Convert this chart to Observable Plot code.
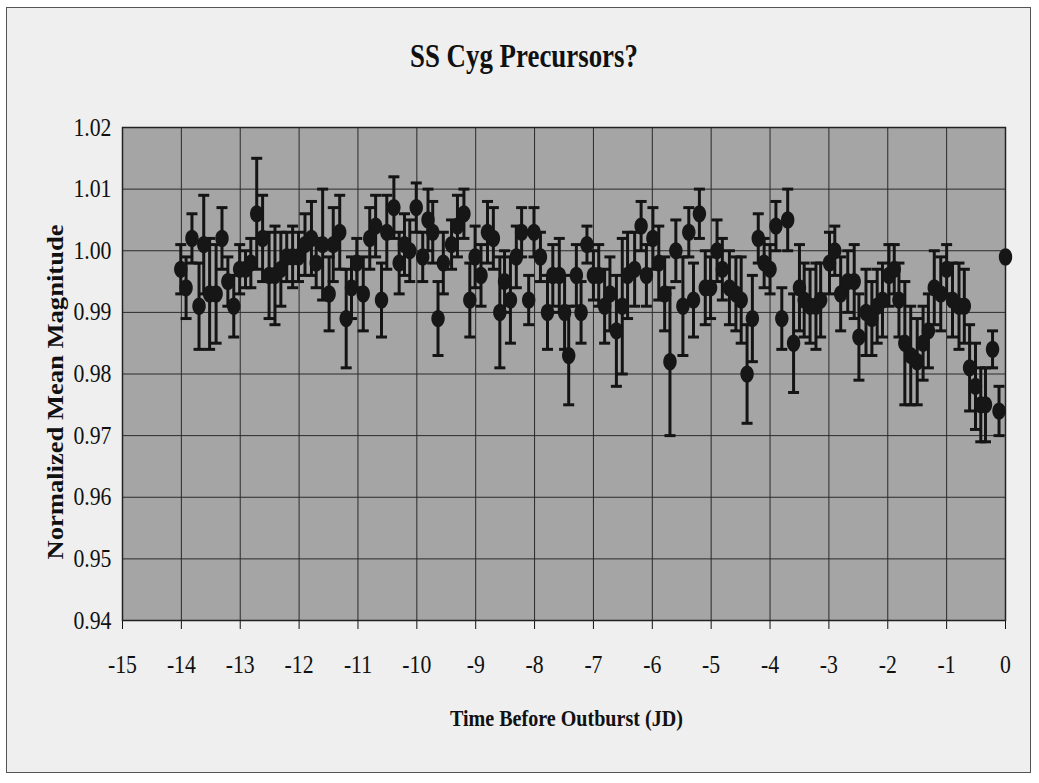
<!DOCTYPE html>
<html>
<head>
<meta charset="utf-8">
<script src="https://cdn.jsdelivr.net/npm/d3@7"></script>
<script src="https://cdn.jsdelivr.net/npm/@observablehq/plot@0.6"></script>
<style>
  html, body { margin: 0; padding: 0; background: #ffffff; }
  #page { position: relative; width: 1039px; height: 783px; overflow: hidden; background: #ffffff; }
  #frame { position: absolute; left: 6px; top: 7px; width: 1025px; height: 766px; border: 1px solid #555; background: #efefef; box-sizing: border-box; }
  #title { position: absolute; left: 0; top: 38px; width: 1047px; text-align: center; }
  #title span { display: inline-block; font-family: "Liberation Serif", serif; font-weight: bold; font-size: 33px; color: #111; transform-origin: center; white-space: nowrap; }
  .axtitle { position: absolute; left: 0; top: 0; font-family: "Liberation Serif", serif; font-weight: bold; color: #111; white-space: nowrap; line-height: 1; }
  #chart { position: absolute; left: 0; top: 100px; }
</style>
</head>
<body>
<div id="page">
  <div id="frame"></div>
  <div id="title"><span>SS Cyg Precursors?</span></div>
  <div id="chart"></div>
  <div id="xtitle" class="axtitle" style="font-size:23px"></div>
  <div id="ytitle" class="axtitle" style="font-size:24px"></div>
</div>
<script>
const titleText = "SS Cyg Precursors?";
const xTitle = "Time Before Outburst (JD)";
const yTitle = "Normalized Mean Magnitude";
const xTicks = [-15,-14,-13,-12,-11,-10,-9,-8,-7,-6,-5,-4,-3,-2,-1,0];
const yTicks = [0.94,0.95,0.96,0.97,0.98,0.99,1.00,1.01,1.02];

const times = [-14.01,-13.92,-13.82,-13.70,-13.62,-13.52,-13.41,-13.31,-13.21,-13.11,
-13.01,-12.91,-12.82,-12.72,-12.62,-12.51,-12.41,-12.31,-12.21,-12.11,
-12.01,-11.90,-11.79,-11.71,-11.60,-11.49,-11.42,-11.31,-11.20,-11.11,
-11.02,-10.91,-10.80,-10.70,-10.60,-10.51,-10.39,-10.30,-10.21,-10.12,
-10.01,-9.90,-9.81,-9.73,-9.64,-9.55,-9.41,-9.31,-9.20,-9.10,
-9.01,-8.91,-8.80,-8.70,-8.59,-8.51,-8.41,-8.31,-8.22,-8.10,
-8.01,-7.90,-7.78,-7.69,-7.58,-7.49,-7.42,-7.29,-7.21,-7.11,
-7.00,-6.91,-6.81,-6.72,-6.61,-6.51,-6.42,-6.30,-6.19,-6.10,
-5.99,-5.89,-5.79,-5.70,-5.60,-5.48,-5.38,-5.30,-5.20,-5.10,
-5.01,-4.90,-4.81,-4.69,-4.58,-4.49,-4.39,-4.30,-4.20,-4.10,
-4.00,-3.90,-3.80,-3.70,-3.60,-3.50,-3.42,-3.32,-3.22,-3.14,
-2.99,-2.90,-2.80,-2.68,-2.57,-2.49,-2.37,-2.27,-2.18,-2.09,
-1.98,-1.89,-1.81,-1.71,-1.61,-1.50,-1.40,-1.31,-1.21,-1.10,
-1.00,-0.90,-0.79,-0.70,-0.61,-0.51,-0.42,-0.34,-0.22,-0.11,
0];

const mags = [0.997,0.994,1.002,0.991,1.001,0.993,0.993,1.002,0.995,0.991,
0.997,0.997,0.998,1.006,1.002,0.996,0.996,0.997,0.999,0.999,
0.999,1.001,1.002,0.998,1.001,0.993,1.001,1.003,0.989,0.994,
0.998,0.993,1.002,1.004,0.992,1.003,1.007,0.998,1.001,1.000,
1.007,0.999,1.005,1.003,0.989,0.998,1.001,1.004,1.006,0.992,
0.999,0.996,1.003,1.002,0.990,0.995,0.992,0.999,1.003,0.992,
1.003,0.999,0.990,0.996,0.996,0.990,0.983,0.996,0.990,1.001,
0.996,0.996,0.991,0.993,0.987,0.991,0.996,0.997,1.004,0.996,
1.002,0.998,0.993,0.982,1.000,0.991,1.003,0.992,1.006,0.994,
0.994,1.000,0.997,0.994,0.993,0.992,0.980,0.989,1.002,0.998,
0.997,1.004,0.989,1.005,0.985,0.994,0.992,0.991,0.991,0.992,
0.998,1.000,0.993,0.995,0.995,0.986,0.990,0.989,0.991,0.992,
0.996,0.997,0.992,0.985,0.983,0.982,0.985,0.987,0.994,0.993,
0.997,0.992,0.991,0.991,0.981,0.978,0.975,0.975,0.984,0.974,
0.999];

const errs = [0.004,0.005,0.004,0.007,0.008,0.009,0.008,0.005,0.004,0.005,
0.004,0.003,0.004,0.009,0.007,0.007,0.008,0.006,0.004,0.005,
0.004,0.005,0.006,0.004,0.009,0.006,0.006,0.006,0.008,0.005,
0.004,0.006,0.005,0.005,0.006,0.006,0.005,0.005,0.005,0.005,
0.004,0.004,0.005,0.005,0.006,0.005,0.004,0.005,0.004,0.006,
0.005,0.005,0.005,0.005,0.009,0.005,0.007,0.005,0.004,0.004,
0.004,0.004,0.006,0.005,0.006,0.006,0.008,0.005,0.005,0.003,
0.004,0.005,0.006,0.006,0.009,0.011,0.007,0.006,0.004,0.005,
0.005,0.006,0.006,0.012,0.005,0.008,0.004,0.006,0.004,0.006,
0.005,0.005,0.005,0.006,0.006,0.007,0.008,0.007,0.004,0.004,
0.004,0.004,0.005,0.005,0.008,0.007,0.006,0.006,0.007,0.006,
0.005,0.004,0.006,0.005,0.006,0.007,0.007,0.006,0.006,0.006,
0.005,0.004,0.006,0.010,0.008,0.007,0.006,0.006,0.006,0.006,
0.004,0.006,0.007,0.006,0.007,0.007,0.006,0.006,0.003,0.004,
0];

const data = times.map((t, i) => ({t, m: mags[i], e: errs[i]}));
const withErr = data.filter(d => d.e > 0);

const ellipse = {
  draw(ctx, size) {
    const r = Math.sqrt(size / Math.PI), rx = r * 0.78, ry = r, k = 0.5523;
    ctx.moveTo(rx, 0);
    ctx.bezierCurveTo(rx, ry * k, rx * k, ry, 0, ry);
    ctx.bezierCurveTo(-rx * k, ry, -rx, ry * k, -rx, 0);
    ctx.bezierCurveTo(-rx, -ry * k, -rx * k, -ry, 0, -ry);
    ctx.bezierCurveTo(rx * k, -ry, rx, -ry * k, rx, 0);
    ctx.closePath();
  }
};
const cap = {
  draw(ctx, size) {
    const r = Math.sqrt(size / Math.PI);
    ctx.moveTo(-r, 0);
    ctx.lineTo(r, 0);
  }
};

const chart = Plot.plot({
  width: 1039,
  height: 683,
  marginTop: 27,
  marginBottom: 163,
  marginLeft: 122,
  marginRight: 34,
  style: {fontFamily: "'Liberation Serif', serif", fontSize: "25px", color: "#111", background: "transparent", overflow: "visible"},
  x: {domain: [-15, 0], ticks: xTicks, tickFormat: d => String(d).replace("−", "-"), tickSize: 9, tickPadding: 26, label: null},
  y: {domain: [0.94, 1.02], ticks: yTicks, tickFormat: d3.format(".2f"), tickSize: 0, tickPadding: 11, label: null},
  marks: [
    Plot.frame({fill: "#a5a5a5", stroke: null}),
    Plot.ruleX(xTicks, {stroke: "#2a2a2a", strokeWidth: 1}),
    Plot.ruleY(yTicks, {stroke: "#2a2a2a", strokeWidth: 1}),
    Plot.frame({stroke: "#222", strokeWidth: 1.5}),
    Plot.ruleX(withErr, {x: "t", y1: d => d.m - d.e, y2: d => d.m + d.e, stroke: "#141414", strokeWidth: 3}),
    Plot.dot(withErr, {x: "t", y: d => d.m + d.e, symbol: cap, r: 5.5, stroke: "#141414", strokeWidth: 3, fill: "none"}),
    Plot.dot(withErr, {x: "t", y: d => d.m - d.e, symbol: cap, r: 5.5, stroke: "#141414", strokeWidth: 3, fill: "none"}),
    Plot.dot(data, {x: "t", y: "m", symbol: ellipse, r: 8.6, fill: "#161616", stroke: "none"})
  ]
});
document.getElementById("chart").appendChild(chart);

// condense the tick labels slightly like the original narrow typesetting
chart.querySelectorAll("text").forEach(el => {
  const t = el.getAttribute("transform");
  if (t && t.trim()) {
    el.setAttribute("transform", `${t} scale(0.87,1)`);
  } else {
    const x = parseFloat(el.getAttribute("x"));
    const x0 = isFinite(x) ? x : 0;
    el.setAttribute("transform", `translate(${x0},0) scale(0.87,1) translate(${-x0},0)`);
  }
});

// axis titles (HTML, placed around the SVG) and chart title
function placeTitle(el, text, cx, cy, targetLen, rotate) {
  el.textContent = text;
  const r = el.getBoundingClientRect();
  const w = r.width, h = r.height;
  el.style.left = (cx - w / 2) + "px";
  el.style.top = (cy - h / 2) + "px";
  el.style.transformOrigin = "50% 50%";
  el.style.transform = `${rotate ? "rotate(-90deg) " : ""}scaleX(${targetLen / w})`;
}
placeTitle(document.getElementById("xtitle"), xTitle, 566, 718, 233, false);
placeTitle(document.getElementById("ytitle"), yTitle, 55, 392, 335, true);

const ts = document.querySelector("#title span");
const w = ts.getBoundingClientRect().width;
ts.style.transform = `scaleX(${228 / w})`;
</script>
</body>
</html>
